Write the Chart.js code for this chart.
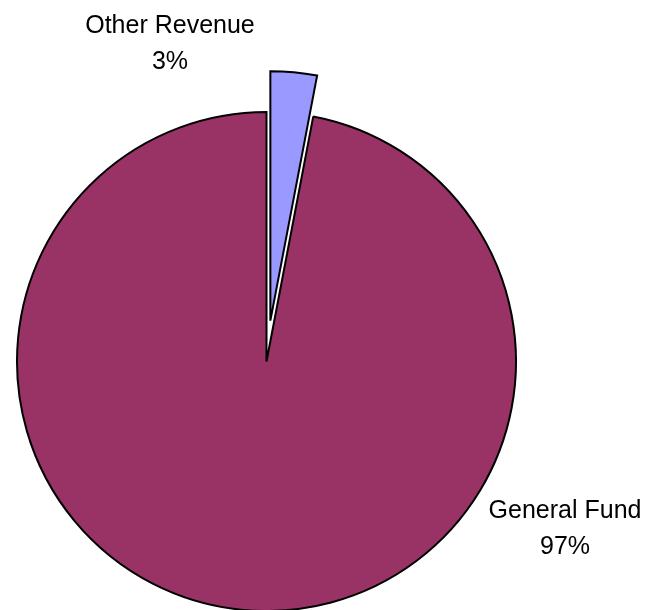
<!DOCTYPE html>
<html>
<head>
<meta charset="utf-8">
<title>Revenue Sources</title>
<script src="https://cdn.jsdelivr.net/npm/chart.js@4/dist/chart.umd.min.js"></script>
<style>
  html, body { margin: 0; padding: 0; background: #fff; }
  #wrap { position: relative; width: 660px; height: 610px; }
</style>
</head>
<body>
<div id="wrap"><canvas id="chartRevenue"></canvas></div>
<script>
  const categories = ["Other Revenue", "General Fund"];
  const shares = [3, 97];
  const sliceColors = ["#9999FF", "#993366"];
  const explodeBy = [41, 0];

  // pull a slice straight out along its bisector (no radius growth like hoverOffset)
  const explodePlugin = {
    id: "explode",
    afterDatasetsUpdate(chart, args, opts) {
      const meta = chart.getDatasetMeta(0);
      meta.data.forEach((arc, i) => {
        const d = (opts.distance || [])[i] || 0;
        if (!d) return;
        const mid = (arc.startAngle + arc.endAngle) / 2;
        arc.x += Math.cos(mid) * d;
        arc.y += Math.sin(mid) * d;
      });
    }
  };

  // two-line "name / pct" labels placed around the pie centre
  const outsideLabels = {
    id: "outsideLabels",
    afterDatasetsDraw(chart, args, opts) {
      const { ctx, chartArea } = chart;
      const cx = (chartArea.left + chartArea.right) / 2;
      const cy = (chartArea.top + chartArea.bottom) / 2;
      const data = chart.data.datasets[0].data;
      const total = data.reduce((a, b) => a + b, 0);
      ctx.save();
      ctx.font = opts.font;
      ctx.fillStyle = "#000";
      ctx.textAlign = "center";
      ctx.textBaseline = "alphabetic";
      chart.data.labels.forEach((name, i) => {
        const at = opts.anchors[i];
        const pct = Math.round(data[i] / total * 100) + "%";
        ctx.fillText(name, cx + at.dx, cy + at.dy);
        ctx.fillText(pct, cx + at.dx, cy + at.dy + opts.lineHeight);
      });
      ctx.restore();
    }
  };

  new Chart(document.getElementById("chartRevenue"), {
    type: "pie",
    data: {
      labels: categories,
      datasets: [{
        data: shares,
        backgroundColor: sliceColors,
        borderColor: "#000",
        borderWidth: 2,
        borderJoinStyle: "miter",
        clip: false
      }]
    },
    options: {
      responsive: true,
      maintainAspectRatio: false,
      animation: false,
      radius: 249.5,
      layout: { padding: { left: 0, right: 127, top: 113, bottom: 0 } },
      plugins: {
        legend: { display: false },
        tooltip: { enabled: false },
        explode: { distance: explodeBy },
        outsideLabels: {
          font: "25px 'Liberation Sans', Arial, sans-serif",
          lineHeight: 36,
          anchors: [
            { dx: -96.5, dy: -328.5 },
            { dx: 298.5, dy: 156.5 }
          ]
        }
      }
    },
    plugins: [explodePlugin, outsideLabels]
  });
</script>
</body>
</html>
